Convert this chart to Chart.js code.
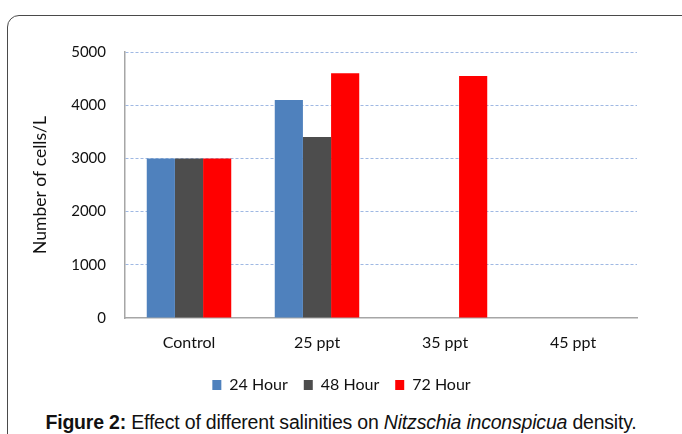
<!DOCTYPE html>
<html>
<head>
<meta charset="utf-8">
<script src="https://cdn.jsdelivr.net/npm/chart.js@4.4.1/dist/chart.umd.min.js"></script>
<style>
    html, body { margin: 0; padding: 0; background: #fff; }
    #page { position: relative; width: 682px; height: 434px; overflow: hidden; background: #fff; }
    #frame {
        position: absolute; left: 7px; top: 15px; width: 720px; height: 460px;
        border: 1.5px solid #4a4a4a; border-top-left-radius: 12px;
    }
    #chartBox { position: absolute; left: 0; top: 0; width: 682px; height: 403px; }
    #caption {
        position: absolute; left: 0; width: 682px; top: 411px; text-align: center;
        font-family: "Liberation Sans", Arial, sans-serif; font-size: 19.5px; color: #111;
        letter-spacing: -0.2px;
    }
</style>
</head>
<body>
<div id="page">
    <div id="frame"></div>
    <div id="chartBox"><canvas id="chart"></canvas></div>
    <div id="caption"><b>Figure 2:</b> Effect of different salinities on <i>Nitzschia inconspicua</i> density.</div>
</div>
<script>
// Data ------------------------------------------------------------------------------

const CATEGORIES = ['Control', '25 ppt', '35 ppt', '45 ppt'];
const SERIES_NAMES = ['24 Hour', '48 Hour', '72 Hour'];

const HOUR_24 = [3000, 4100, 0, 0];
const HOUR_48 = [3000, 3400, 0, 0];
const HOUR_72 = [3000, 4600, 4550, 0];

const Y_TICKS = [0, 1000, 2000, 3000, 4000, 5000];

// Styles ------------------------------------------------------------------------------

const COLORS = ['#4f81bd', '#4d4d4d', '#ff0000'];
const FONT_FAMILY = 'Lato, "Liberation Sans", sans-serif';
const X_FONT = { family: FONT_FAMILY, size: 16 };
const Y_FONT = { family: FONT_FAMILY, size: 15 };
const LEGEND_SHIFT = 8;

// Chart ------------------------------------------------------------------------------

let datasets = [HOUR_24, HOUR_48, HOUR_72].map(function (values, i) {
    return {
        label: SERIES_NAMES[i],
        data: values,
        backgroundColor: COLORS[i],
        borderWidth: 0,
        categoryPercentage: 0.66,
        barPercentage: 1.0
    };
});

// legend sits a bit right of the layout centre in the original
let shiftLegend = {
    id: 'shiftLegend',
    afterLayout: function (chart) {
        chart.legend.left += LEGEND_SHIFT;
        chart.legend.right += LEGEND_SHIFT;
    }
};

new Chart(document.getElementById('chart').getContext('2d'), {
    type: 'bar',
    data: { labels: CATEGORIES, datasets: datasets },
    plugins: [shiftLegend],
    options: {
        responsive: true,
        maintainAspectRatio: false,
        animation: false,
        layout: { padding: { left: 30, right: 45, top: 52, bottom: 0 } },
        plugins: {
            legend: {
                position: 'bottom',
                labels: {
                    boxWidth: 9, boxHeight: 10, padding: 16,
                    color: '#111', font: X_FONT
                }
            },
            tooltip: { enabled: false }
        },
        scales: {
            x: {
                grid: { display: false },
                border: { display: true, color: '#a6a6a6', width: 1.5 },
                ticks: { color: '#111', font: X_FONT, padding: 7 },
                afterFit: function (scale) { scale.height = 43; }
            },
            y: {
                min: 0,
                max: 5000,
                afterBuildTicks: function (scale) {
                    scale.ticks = Y_TICKS.map(function (v) { return { value: v }; });
                },
                grid: {
                    drawTicks: false,
                    color: function (ctx) { return ctx.tick && ctx.tick.value === 0 ? 'rgba(0,0,0,0)' : '#9fb8e3'; }
                },
                border: { display: true, color: '#a6a6a6', width: 1.5, dash: [3, 2] },
                ticks: {
                    color: '#111', font: Y_FONT, padding: 19,
                    callback: function (v) { return String(v); }
                },
                title: {
                    display: true,
                    text: 'Number of cells/L',
                    color: '#111',
                    font: { family: FONT_FAMILY, size: 17.5 },
                    padding: 0
                },
                afterFit: function (scale) { scale.width = 95; }
            }
        }
    }
});
</script>
</body>
</html>
